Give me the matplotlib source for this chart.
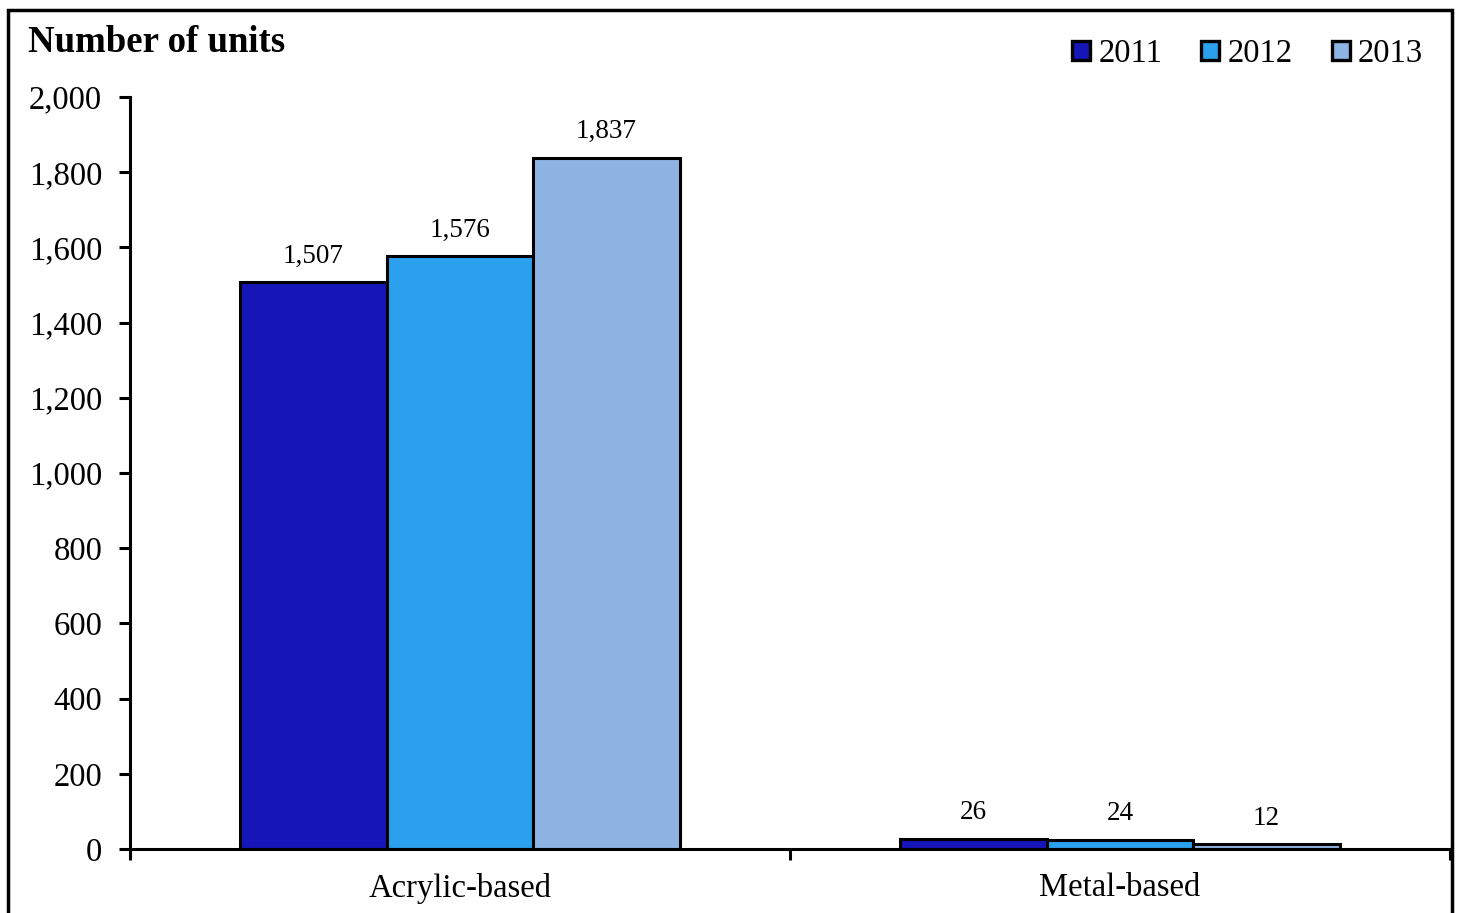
import numpy as np
import matplotlib
matplotlib.use("Agg")
import matplotlib.pyplot as plt
from matplotlib.patches import Rectangle

# 数据
categories = ["Acrylic-based", "Metal-based"]
years = ["2011", "2012", "2013"]
units_2011 = [1507, 26]
units_2012 = [1576, 24]
units_2013 = [1837, 12]
colors = ["#1515B8", "#2BA0EC", "#8EB4E3"]

plt.rcParams['font.family'] = ['Liberation Serif', 'DejaVu Serif']

fig = plt.figure(figsize=(14.6, 9.13), dpi=100)
ax = fig.add_axes([130 / 1460, 64 / 913, 1320 / 1460, 752 / 913])

x = np.arange(len(categories))
width = 0.222
series = [units_2011, units_2012, units_2013]
for i, (vals, yr, col) in enumerate(zip(series, years, colors)):
    bars = ax.bar(x + (i - 1) * width, vals, width, color=col, edgecolor='black',
                  linewidth=2.2, label=yr, zorder=2)
    for b, v in zip(bars, vals):
        ax.annotate(f"{v:,}", (b.get_x() + b.get_width() / 2, v),
                    xytext=(0, 10), textcoords='offset points',
                    ha='center', va='bottom', fontsize=19.5)

ax.set_xlim(-0.5, 1.5)
ax.set_ylim(0, 2000)
ax.set_yticks(np.arange(0, 2001, 200))
ax.yaxis.set_major_formatter(matplotlib.ticker.FuncFormatter(lambda v, p: f"{int(v):,}"))
ax.set_xticks(x)
ax.set_xticklabels(categories)
ax.set_xticks([-0.5, 0.5, 1.5], minor=True)
ax.tick_params(axis='x', which='major', length=0, pad=17, labelsize=23.5)
ax.tick_params(axis='x', which='minor', length=8, width=2.2, direction='out')
ax.tick_params(axis='y', length=8, width=2.2, direction='out', pad=12, labelsize=23.5)

for s in ['top', 'right']:
    ax.spines[s].set_visible(False)
for s in ['left', 'bottom']:
    ax.spines[s].set_linewidth(2.2)

# 标题
fig.text(28 / 1460, 1 - 42 / 913, "Number of units", fontsize=26.5, fontweight='bold',
         ha='left', va='center')

# 图例
leg = ax.legend(loc='upper right', bbox_to_anchor=(0.9895, 1.095), ncol=3, frameon=False,
                fontsize=23.5, handlelength=0.55, handleheight=0.55, handletextpad=0.25,
                columnspacing=1.2, borderaxespad=0)
for h in leg.legend_handles:
    h.set_linewidth(2.4)

# 外框
fig.patches.append(Rectangle((8 / 1460, -0.05), 1444 / 1460, 1.05 - 10 / 913,
                             transform=fig.transFigure, fill=False,
                             edgecolor='black', linewidth=2.5, zorder=10))

fig.savefig("out.png", dpi=100)
